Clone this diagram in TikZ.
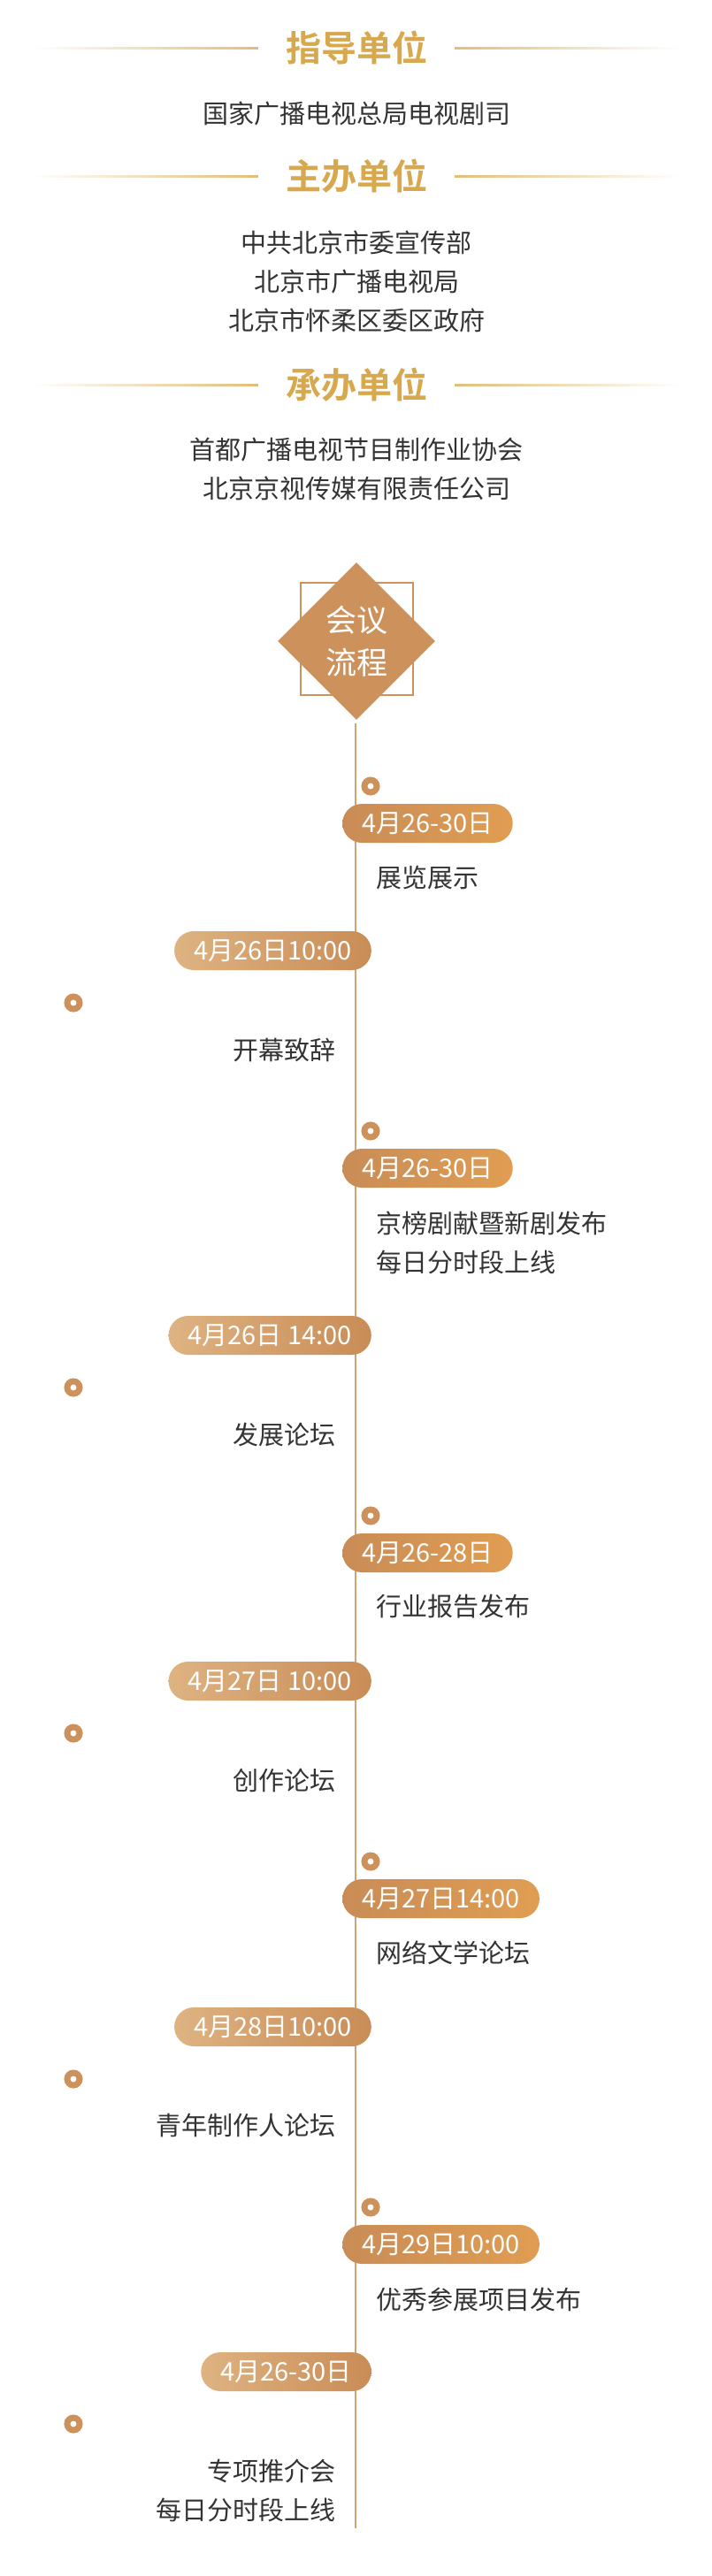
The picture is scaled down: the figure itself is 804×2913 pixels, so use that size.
\documentclass[tikz,border=0pt]{standalone}
\usepackage{fontspec}
\setmainfont{Noto Sans CJK SC}[BoldFont={Noto Sans CJK SC Bold}]
\usetikzlibrary{positioning,backgrounds,shapes.geometric}

\definecolor{gold}{HTML}{D8A84E}
\definecolor{tan}{HTML}{CD925B}
\definecolor{ink}{HTML}{333333}
\definecolor{pillbrown}{HTML}{C98C56}
\definecolor{pillorange}{HTML}{E09D52}
\definecolor{pilllight}{HTML}{DEB382}

\begin{document}
\begin{tikzpicture}[
  x=1pt, y=-1pt,
  head/.style  ={text=gold, font=\fontsize{40}{48}\selectfont\bfseries, inner sep=0pt},
  org/.style   ={text=ink, font=\fontsize{29}{44}\selectfont, align=center, inner sep=0pt},
  pill/.style  ={text=white, font=\fontsize{29}{34}\selectfont, rounded corners=22pt,
                 minimum height=44pt, inner xsep=22pt, inner ysep=0pt},
  rpill/.style ={pill, anchor=west, left color=pillbrown, right color=pillorange},
  lpill/.style ={pill, anchor=east, left color=pilllight, right color=pillbrown},
  ring/.style  ={circle, draw=tan, line width=7pt, minimum size=14pt, inner sep=0pt},
  event/.style ={text=ink, font=\fontsize{29}{44}\selectfont, inner sep=0pt},
]
\useasboundingbox (0,0) rectangle (804,2913);

%% ---------------- organisers ----------------
\foreach \y/\txt [count=\k] in {54/指导单位, 199/主办单位, 435/承办单位}{
  \node[head] (h\k) at (403,\y) {\txt};
  \shade[left color=white, right color=gold!75] ([xshift=-31pt, yshift=1pt]h\k.west) rectangle ++(-256,2);
  \shade[left color=gold!75, right color=white] ([xshift=31pt, yshift=1pt]h\k.east) rectangle ++(256,2);
}

\node[org] (o1) at (403,129) {国家广播电视总局电视剧司};
\node[org] (o2) at (403,318) {中共北京市委宣传部\\北京市广播电视局\\北京市怀柔区委区政府};
\node[org] (o3) at (403,530.5) {首都广播电视节目制作业协会\\北京京视传媒有限责任公司};

%% ---------------- badge ----------------
\node[draw=tan, line width=2pt, minimum size=127pt, inner sep=0pt] (frame) at (403,722) {};
\node[diamond, fill=tan, minimum width=178pt, minimum height=178pt, aspect=1, inner sep=0pt,
      text=white, align=center, font=\fontsize{35}{48}\selectfont] (flow) at (403,725) {会议\\流程};

%% ---------------- timeline ----------------
\coordinate (end) at (402,2859);

\foreach \y/\d/\t/\txt [count=\i] in {
    931/4月26-30日/992/展览展示,
    1321/4月26-30日/1405/{京榜剧献暨新剧发布\\每日分时段上线},
    1756/4月26-28日/1817/行业报告发布,
    2147/4月27日14:00/2208/网络文学论坛,
    2538/4月29日10:00/2600/优秀参展项目发布}{
  \node[rpill] (rp\i) at (387,\y) {\d};
  \node[ring] (rd\i) at (419,\y-42) {};
  \node[event, anchor=west, align=left] (rt\i) at (425,\t) {\txt};
}

\foreach \y/\d/\t/\txt [count=\i] in {
    1075/4月26日10:00/1187/开幕致辞,
    1510/4月26日 14:00/1622/发展论坛,
    1901/4月27日 10:00/2013/创作论坛,
    2292/4月28日10:00/2403/青年制作人论坛,
    2682/4月26-30日/2816/{专项推介会\\每日分时段上线}}{
  \node[lpill] (lp\i) at (420,\y) {\d};
  \node[ring] (ld\i) at (83,\y+59) {};
  \node[event, anchor=east, align=right] (lt\i) at (380,\t) {\txt};
}

\begin{scope}[on background layer]
  \draw[tan!85, line width=2pt] ([yshift=-4pt]flow.south -| end) -- (end);
\end{scope}

\end{tikzpicture}
\end{document}
